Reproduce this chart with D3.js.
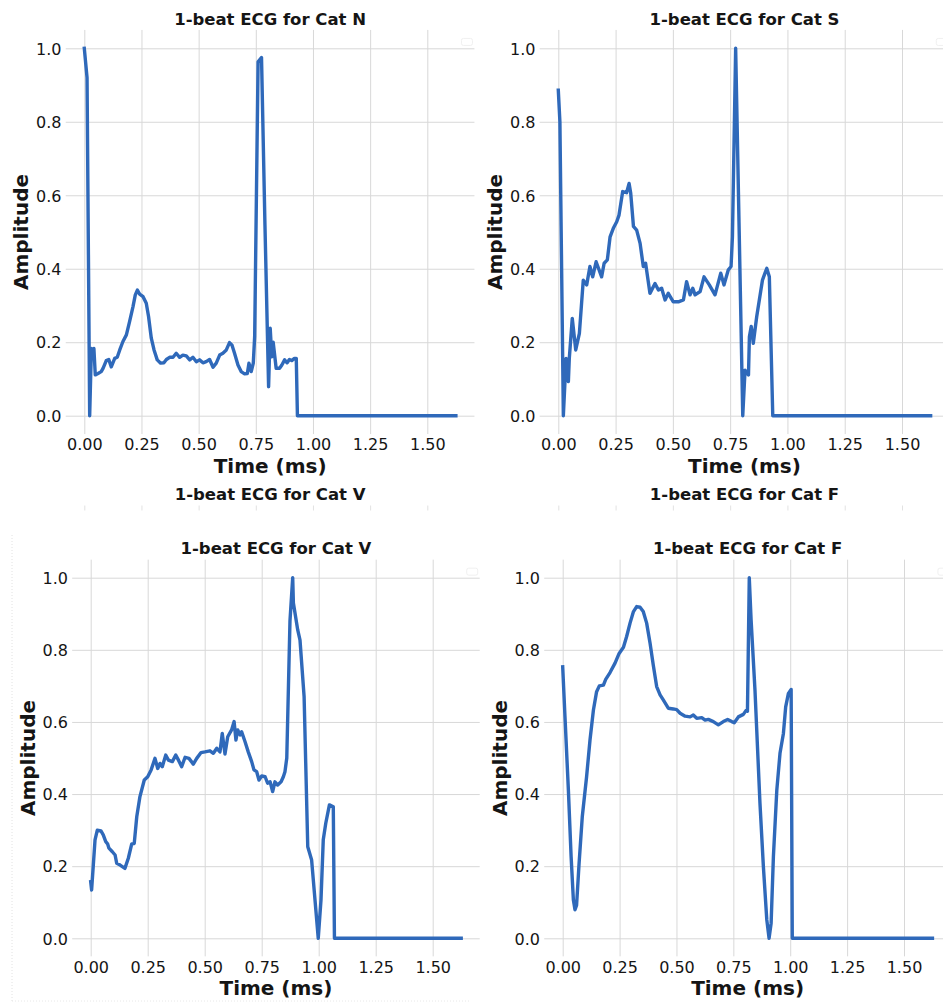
<!DOCTYPE html>
<html><head><meta charset="utf-8">
<script src="https://cdn.jsdelivr.net/npm/d3@7"></script>
<style>html,body{margin:0;padding:0;background:#fff;} svg{display:block;}</style>
</head><body><svg id="c" width="943" height="1003"></svg>
<script>
// ---------------- data ----------------
const titles = ["1-beat ECG for Cat N", "1-beat ECG for Cat S", "1-beat ECG for Cat V", "1-beat ECG for Cat F"];
const xLabel = "Time (ms)";
const yLabel = "Amplitude";
const xTicks = [0, 0.25, 0.5, 0.75, 1.0, 1.25, 1.5];
const yTicks = [0, 0.2, 0.4, 0.6, 0.8, 1.0];

const catN_t = [0, 0.012, 0.0235, 0.031, 0.037, 0.042, 0.048, 0.060, 0.074, 0.082, 0.096, 0.107, 0.118, 0.133, 0.144, 0.155, 0.169, 0.184, 0.198, 0.213, 0.223, 0.232, 0.242, 0.257, 0.271, 0.281, 0.293, 0.305, 0.319, 0.334, 0.348, 0.359, 0.373, 0.388, 0.402, 0.417, 0.431, 0.446, 0.461, 0.475, 0.490, 0.504, 0.519, 0.533, 0.548, 0.563, 0.577, 0.592, 0.606, 0.621, 0.635, 0.646, 0.657, 0.672, 0.686, 0.701, 0.713, 0.720, 0.730, 0.739, 0.745, 0.760, 0.775, 0.790, 0.806, 0.813, 0.820, 0.826, 0.839, 0.854, 0.864, 0.876, 0.887, 0.897, 0.907, 0.919, 0.927, 0.932, 1.625];
const catN_v = [1.0, 0.92, 0.0, 0.183, 0.156, 0.183, 0.111, 0.115, 0.120, 0.129, 0.150, 0.153, 0.133, 0.156, 0.159, 0.179, 0.202, 0.220, 0.256, 0.297, 0.329, 0.342, 0.331, 0.324, 0.306, 0.270, 0.211, 0.179, 0.152, 0.143, 0.144, 0.153, 0.159, 0.159, 0.170, 0.159, 0.165, 0.163, 0.152, 0.159, 0.147, 0.152, 0.144, 0.147, 0.153, 0.132, 0.143, 0.165, 0.170, 0.179, 0.199, 0.192, 0.170, 0.138, 0.120, 0.114, 0.115, 0.143, 0.120, 0.143, 0.215, 0.963, 0.975, 0.52, 0.079, 0.238, 0.16, 0.20, 0.129, 0.129, 0.138, 0.152, 0.144, 0.153, 0.150, 0.156, 0.156, 0.0, 0.0];

const catS_t = [0, 0.007, 0.022, 0.034, 0.044, 0.048, 0.061, 0.076, 0.092, 0.109, 0.124, 0.138, 0.150, 0.165, 0.189, 0.200, 0.214, 0.226, 0.240, 0.255, 0.265, 0.281, 0.298, 0.309, 0.316, 0.328, 0.342, 0.357, 0.371, 0.381, 0.400, 0.422, 0.437, 0.451, 0.466, 0.480, 0.502, 0.524, 0.546, 0.560, 0.575, 0.587, 0.597, 0.619, 0.636, 0.659, 0.684, 0.709, 0.723, 0.742, 0.754, 0.760, 0.774, 0.805, 0.815, 0.830, 0.834, 0.842, 0.851, 0.866, 0.891, 0.902, 0.910, 0.921, 0.936, 1.625];
const catS_v = [0.886, 0.80, 0.0, 0.156, 0.093, 0.156, 0.265, 0.179, 0.224, 0.369, 0.356, 0.406, 0.378, 0.419, 0.378, 0.415, 0.424, 0.487, 0.510, 0.528, 0.546, 0.610, 0.607, 0.632, 0.606, 0.515, 0.505, 0.469, 0.406, 0.415, 0.333, 0.360, 0.342, 0.347, 0.315, 0.333, 0.310, 0.310, 0.315, 0.365, 0.329, 0.347, 0.329, 0.338, 0.378, 0.356, 0.329, 0.388, 0.356, 0.397, 0.406, 0.487, 1.0, 0.0, 0.124, 0.111, 0.215, 0.243, 0.197, 0.270, 0.369, 0.388, 0.401, 0.378, 0.0, 0.0];

const catV_t = [0, 0.004, 0.019, 0.029, 0.045, 0.055, 0.066, 0.074, 0.080, 0.095, 0.107, 0.114, 0.129, 0.150, 0.165, 0.180, 0.191, 0.202, 0.216, 0.235, 0.250, 0.265, 0.282, 0.294, 0.304, 0.314, 0.329, 0.341, 0.358, 0.373, 0.385, 0.399, 0.414, 0.431, 0.450, 0.465, 0.484, 0.501, 0.523, 0.538, 0.553, 0.567, 0.577, 0.589, 0.601, 0.618, 0.629, 0.637, 0.645, 0.655, 0.662, 0.677, 0.691, 0.706, 0.716, 0.728, 0.738, 0.750, 0.765, 0.776, 0.787, 0.798, 0.808, 0.820, 0.835, 0.845, 0.852, 0.860, 0.874, 0.886, 0.889, 0.908, 0.918, 0.936, 0.952, 0.969, 0.998, 1.010, 1.020, 1.031, 1.047, 1.064, 1.069, 1.625];
const catV_v = [0.157, 0.134, 0.273, 0.300, 0.298, 0.287, 0.268, 0.262, 0.250, 0.240, 0.231, 0.208, 0.203, 0.194, 0.222, 0.262, 0.263, 0.337, 0.393, 0.439, 0.448, 0.467, 0.499, 0.471, 0.485, 0.476, 0.508, 0.494, 0.490, 0.508, 0.494, 0.476, 0.502, 0.499, 0.483, 0.499, 0.515, 0.517, 0.520, 0.513, 0.527, 0.517, 0.568, 0.511, 0.559, 0.578, 0.601, 0.550, 0.578, 0.564, 0.573, 0.545, 0.517, 0.490, 0.467, 0.462, 0.439, 0.450, 0.448, 0.430, 0.434, 0.407, 0.434, 0.425, 0.434, 0.448, 0.462, 0.50, 0.88, 1.0, 0.93, 0.855, 0.827, 0.67, 0.254, 0.217, 0.0, 0.106, 0.273, 0.319, 0.370, 0.365, 0.0, 0.0];

const catF_t = [0, 0.010, 0.025, 0.037, 0.047, 0.054, 0.061, 0.072, 0.086, 0.105, 0.120, 0.135, 0.149, 0.161, 0.179, 0.189, 0.208, 0.230, 0.248, 0.267, 0.281, 0.296, 0.311, 0.325, 0.340, 0.354, 0.369, 0.384, 0.398, 0.413, 0.428, 0.442, 0.464, 0.486, 0.501, 0.516, 0.538, 0.560, 0.574, 0.589, 0.611, 0.626, 0.640, 0.662, 0.684, 0.706, 0.725, 0.743, 0.754, 0.772, 0.794, 0.806, 0.812, 0.820, 0.828, 0.845, 0.867, 0.882, 0.897, 0.907, 0.916, 0.926, 0.941, 0.955, 0.970, 0.980, 0.992, 1.004, 1.009, 1.625];
const catF_v = [0.753, 0.615, 0.411, 0.226, 0.106, 0.079, 0.092, 0.208, 0.337, 0.448, 0.550, 0.633, 0.684, 0.700, 0.702, 0.718, 0.737, 0.763, 0.790, 0.807, 0.837, 0.874, 0.906, 0.920, 0.918, 0.906, 0.874, 0.818, 0.758, 0.698, 0.675, 0.661, 0.638, 0.636, 0.634, 0.624, 0.616, 0.614, 0.619, 0.610, 0.612, 0.605, 0.607, 0.601, 0.592, 0.601, 0.607, 0.601, 0.598, 0.614, 0.621, 0.632, 0.63, 1.0, 0.883, 0.689, 0.374, 0.199, 0.051, 0.0, 0.042, 0.226, 0.411, 0.513, 0.568, 0.642, 0.679, 0.690, 0.0, 0.0];

// ---------------- layout ----------------
const FONT = '"DejaVu Sans", Verdana, sans-serif';
const LINE = '#2f69ba';
const GRID = '#d8d8d8';
const TXT = '#151515';
const svg = d3.select('#c');

const panels = [
  {title: titles[0], t: catN_t, v: catN_v, xa: 84.3, xb: 427.3, ya: 415.7, yb: 48.3},
  {title: titles[1], t: catS_t, v: catS_v, xa: 558.3, xb: 902.0, ya: 415.7, yb: 48.3},
  {title: titles[2], t: catV_t, v: catV_v, xa: 90.7, xb: 432.7, ya: 938.3, yb: 577.7,
    ghost: {xa: 84.3, xb: 427.3, top: 505.5}},
  {title: titles[3], t: catF_t, v: catF_v, xa: 562.7, xb: 904.0, ya: 938.3, yb: 577.7,
    ghost: {xa: 558.3, xb: 902.0, top: 505.5}}
];

function padded(ext) { const r = ext[1] - ext[0]; return [ext[0] - 0.05 * r, ext[1] + 0.05 * r]; }

// faint frame of the pasted lower-left panel
svg.append('line').attr('x1', 12).attr('x2', 12).attr('y1', 535).attr('y2', 1001)
  .attr('stroke', '#e2e2e2').attr('stroke-width', 1).attr('stroke-dasharray', '1,2');
svg.append('line').attr('x1', 12).attr('x2', 470).attr('y1', 1001).attr('y2', 1001)
  .attr('stroke', '#e8e8e8').attr('stroke-width', 1).attr('stroke-dasharray', '1,2');

panels.forEach(p => {
  const x = d3.scaleLinear().domain([0, 1.5]).range([p.xa, p.xb]);
  const y = d3.scaleLinear().domain([0, 1]).range([p.ya, p.yb]);
  const xd = padded(d3.extent(p.t));
  const yd = padded(d3.extent(p.v));
  const L = x(xd[0]), R = x(xd[1]), T = y(yd[1]), B = y(yd[0]);
  const g = svg.append('g');

  // ghost copy (title + top of grid) above the lower panels
  if (p.ghost) {
    const xg = d3.scaleLinear().domain([0, 1.5]).range([p.ghost.xa, p.ghost.xb]);
    const Lg = xg(xd[0]), Rg = xg(xd[1]);
    const gg = g.append('g').attr('transform', `translate(0,${p.ghost.top + 5})`)
      .call(d3.axisBottom(xg).tickValues(xTicks).tickSize(-5).tickFormat(''));
    gg.select('.domain').remove();
    gg.selectAll('line').attr('stroke', '#e2e2e2');
    g.append('text').attr('x', (Lg + Rg) / 2).attr('y', p.ghost.top - 5.5)
      .attr('text-anchor', 'middle').attr('font-family', FONT).attr('font-weight', 'bold')
      .attr('font-size', 16.5).attr('fill', TXT).text(p.title);
  }

  // x grid + labels
  const gx = g.append('g').attr('transform', `translate(0,${B})`)
    .call(d3.axisBottom(x).tickValues(xTicks).tickFormat(d3.format('.2f')).tickSize(-(B - T)).tickPadding(0));
  gx.attr('font-family', FONT).attr('font-size', 16);
  gx.select('.domain').remove();
  gx.selectAll('line').attr('stroke', GRID).attr('stroke-width', 1);
  gx.selectAll('text').attr('y', 16.2).attr('dy', null).attr('fill', TXT);

  // y grid + labels
  const gy = g.append('g').attr('transform', `translate(${L},0)`)
    .call(d3.axisLeft(y).tickValues(yTicks).tickFormat(d3.format('.1f')).tickSize(-(R - L)).tickPadding(0));
  gy.attr('font-family', FONT).attr('font-size', 16);
  gy.select('.domain').remove();
  gy.selectAll('line').attr('stroke', GRID).attr('stroke-width', 1);
  gy.selectAll('text').attr('x', -4.2).attr('dy', '0.36em').attr('fill', TXT);

  // empty legend box
  g.append('rect').attr('x', R - 13).attr('y', T + 8.5).attr('width', 11).attr('height', 7).attr('rx', 2)
    .attr('fill', '#fff').attr('stroke', '#f0f0f0').attr('stroke-width', 1);

  // signal line
  const pts = p.t.map((t, i) => ({t: t, v: p.v[i]}));
  g.append('path').datum(pts)
    .attr('d', d3.line().x(d => x(d.t)).y(d => y(d.v)))
    .attr('fill', 'none').attr('stroke', LINE).attr('stroke-width', 3.4)
    .attr('stroke-linejoin', 'round').attr('stroke-linecap', 'square');

  // title and axis labels
  g.append('text').attr('x', (L + R) / 2).attr('y', T - 5.4)
    .attr('text-anchor', 'middle').attr('font-family', FONT).attr('font-weight', 'bold')
    .attr('font-size', 16.5).attr('fill', TXT).text(p.title);
  g.append('text').attr('x', (L + R) / 2).attr('y', B + 39)
    .attr('text-anchor', 'middle').attr('font-family', FONT).attr('font-weight', 'bold')
    .attr('font-size', 20).attr('fill', TXT).text(xLabel);
  g.append('text').attr('transform', `translate(${L - 37.5},${(T + B) / 2}) rotate(-90)`)
    .attr('text-anchor', 'middle').attr('font-family', FONT).attr('font-weight', 'bold')
    .attr('font-size', 20).attr('fill', TXT).text(yLabel);
});
</script>
</body></html>
